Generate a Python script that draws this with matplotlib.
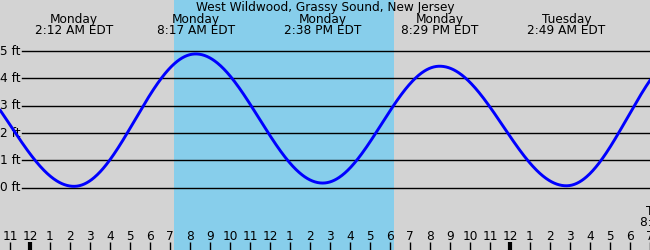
import numpy as np
import matplotlib
matplotlib.use("Agg")
import matplotlib.pyplot as plt

# ---- data ----
title = "West Wildwood, Grassy Sound, New Jersey"
# tide extremes: hours from Monday midnight, heights in ft
event_hours = [-4.15, 2.2, 8.283, 14.633, 20.483, 26.817, 32.917]
event_heights = [4.5, 0.05, 4.9, 0.17, 4.45, 0.07, 5.05]
label_days = ["Monday", "Monday", "Monday", "Monday", "Tuesday"]
label_times = ["2:12 AM EDT", "8:17 AM EDT", "2:38 PM EDT", "8:29 PM EDT", "2:49 AM EDT"]
label_hours = [2.2, 8.283, 14.633, 20.483, 26.817]
sunrise, sunset = 7.2, 18.2
y_ticks = [0, 1, 2, 3, 4, 5]
y_tick_labels = ["0 ft", "1 ft", "2 ft", "3 ft", "4 ft", "5 ft"]
hour_ticks = list(range(-1, 32))

W, H = 650, 250
fig = plt.figure(figsize=(6.5, 2.5), dpi=100, facecolor="#D3D3D3")
ax = fig.add_axes([0, 0, 1, 1])
ax.set_facecolor("#D3D3D3")
ax.set_xlim(-1.5, 31)
ax.set_ylim((187.7 - 250) / 27.3, 187.7 / 27.3)
for s in ax.spines.values():
    s.set_visible(False)
ax.set_xticks([]); ax.set_yticks([])

FS = 8.7
fam = "DejaVu Sans"

# daylight
ax.axvspan(sunrise, sunset, color="#87CEEB", zorder=0, lw=0)

# gridlines & labels
for v, lab in zip(y_ticks, y_tick_labels):
    ax.axhline(v, xmin=22 / W, xmax=1, color="black", lw=1, zorder=1)
    ax.text(20 / W, v, lab, transform=ax.get_yaxis_transform(), ha="right",
            va="center", fontsize=FS, family=fam)

# tide curve (cosine between extremes)
xs, ys = [], []
for i in range(len(event_hours) - 1):
    t0, t1 = event_hours[i], event_hours[i + 1]
    h0, h1 = event_heights[i], event_heights[i + 1]
    t = np.linspace(t0, t1, 200)
    f = (1 - np.cos(np.pi * (t - t0) / (t1 - t0))) / 2
    xs.append(t); ys.append(h0 + (h1 - h0) * f)
ax.plot(np.concatenate(xs), np.concatenate(ys), color="#0000FF", lw=2.1, zorder=3,
        solid_capstyle="round")

# hour ticks
trans = ax.get_xaxis_transform()
for h in hour_ticks:
    lw = 3 if h % 24 == 0 else 1
    ax.plot([h, h], [0, 8 / H], transform=trans, color="black", lw=lw,
            solid_capstyle="butt", clip_on=False, zorder=4)
    lab = str(h % 12 if h % 12 != 0 else 12)
    ax.text(h, 1 - 236 / H, lab, transform=trans, ha="center", va="center",
            fontsize=FS, family=fam)

# event labels
for d, t, h in zip(label_days, label_times, label_hours):
    ax.text(h, 1 - 19 / H, d, transform=trans, ha="center", va="center",
            fontsize=FS, family=fam)
    ax.text(h, 1 - 31 / H, t, transform=trans, ha="center", va="center",
            fontsize=FS, family=fam)

# cut-off label at right edge
fig.text(646 / W, 1 - 211 / H, "Tuesday", ha="left", va="center", fontsize=FS, family=fam)
fig.text(640 / W, 1 - 223 / H, "8:55 AM EDT", ha="left", va="center", fontsize=FS, family=fam)

fig.text(0.5, 1 - 8 / H, title, ha="center", va="center", fontsize=FS, family=fam)

fig.savefig("out.png", dpi=100, facecolor=fig.get_facecolor())
